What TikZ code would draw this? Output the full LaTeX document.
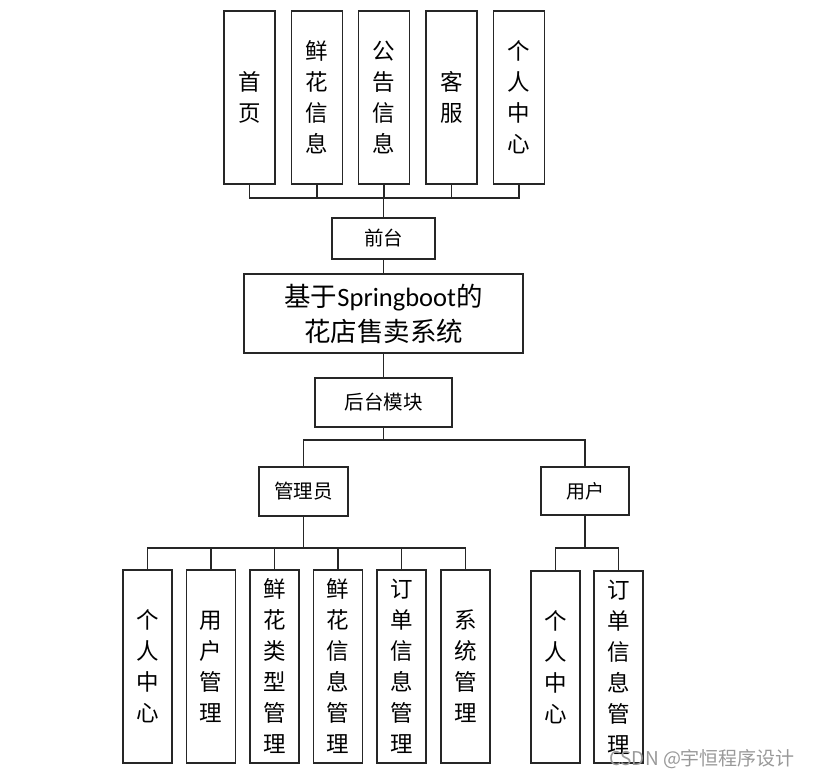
\documentclass[tikz,border=0pt]{standalone}
\usepackage{fontspec}
\setmainfont{Noto Sans CJK SC}
\newfontfamily\lat{Carlito}
\usetikzlibrary{calc}
\begin{document}
\begin{tikzpicture}[x=1pt,y=-1pt,
  box/.style={draw=black!85,line width=1.7pt,fill=white,inner sep=0pt,align=center},
  vbox/.style={box,minimum width=51pt,minimum height=173pt,font=\fontsize{22.5}{31}\selectfont},
  lbox/.style={box,minimum width=49pt,minimum height=193pt,font=\fontsize{22.5}{31}\selectfont},
  conn/.style={draw=black!85,line width=1.6pt}]
\useasboundingbox (0,0) rectangle (813,777);
% top level
\node[vbox] (t1) at (249.5,97.5) {首\\页};
\node[vbox] (t2) at (317,97.5) {鲜\\花\\信\\息};
\node[vbox] (t3) at (384,97.5) {公\\告\\信\\息};
\node[vbox] (t4) at (451.5,97.5) {客\\服};
\node[vbox] (t5) at (519,97.5) {个\\人\\中\\心};
\node[box,minimum width=103pt,minimum height=41pt,font=\fontsize{19.5}{22}\selectfont] (qt) at (383.5,238.5) {前台};
\node[box,minimum width=279pt,minimum height=79pt,font=\fontsize{26.5}{35}\selectfont] (main) at (383.5,313.5) {基于{\lat Springboot}的\\花店售卖系统};
\node[box,minimum width=137pt,minimum height=49pt,font=\fontsize{19.5}{22}\selectfont] (ht) at (383.5,402.5) {后台模块};
\node[box,minimum width=89pt,minimum height=49pt,font=\fontsize{19.5}{22}\selectfont] (adm) at (303.5,491.5) {管理员};
\node[box,minimum width=88pt,minimum height=48pt,font=\fontsize{19}{22}\selectfont] (usr) at (585,491) {用户};
% admin children
\node[lbox] (a1) at (147.5,666.5) {个\\人\\中\\心};
\node[lbox] (a2) at (211,666.5) {用\\户\\管\\理};
\node[lbox] (a3) at (274.5,666.5) {鲜\\花\\类\\型\\管\\理};
\node[lbox] (a4) at (338,666.5) {鲜\\花\\信\\息\\管\\理};
\node[lbox] (a5) at (401.5,666.5) {订\\单\\信\\息\\管\\理};
\node[lbox] (a6) at (465.5,666.5) {系\\统\\管\\理};
% user children
\node[lbox,minimum height=192pt] (u1) at (555.5,667) {个\\人\\中\\心};
\node[lbox,minimum height=192pt] (u2) at (618.5,667) {订\\单\\信\\息\\管\\理};
% connectors
\foreach \n in {t1,t2,t3,t4,t5}
  \draw[conn] (\n.south) -- ++(0,13) -| (qt.north);
\draw[conn] (qt.south) -- (main.north);
\draw[conn] (main.south) -- (ht.north);
\draw[conn] (ht.south) -- ++(0,12) -| (adm.north);
\draw[conn] (ht.south) -- ++(0,12) -| (usr.north);
\foreach \n in {a1,a2,a3,a4,a5,a6}
  \draw[conn] (adm.south) -- ++(0,31) -| (\n.north);
\draw[conn] (usr.south) -- ++(0,32) -| (u1.north);
\draw[conn] (usr.south) -- ++(0,32) -| (u2.north);
% watermark
\node[text=black!40,font=\fontsize{19}{22}\selectfont,inner sep=0pt] (wm) at (702,759) {CSDN @宇恒程序设计};
\end{tikzpicture}
\end{document}
